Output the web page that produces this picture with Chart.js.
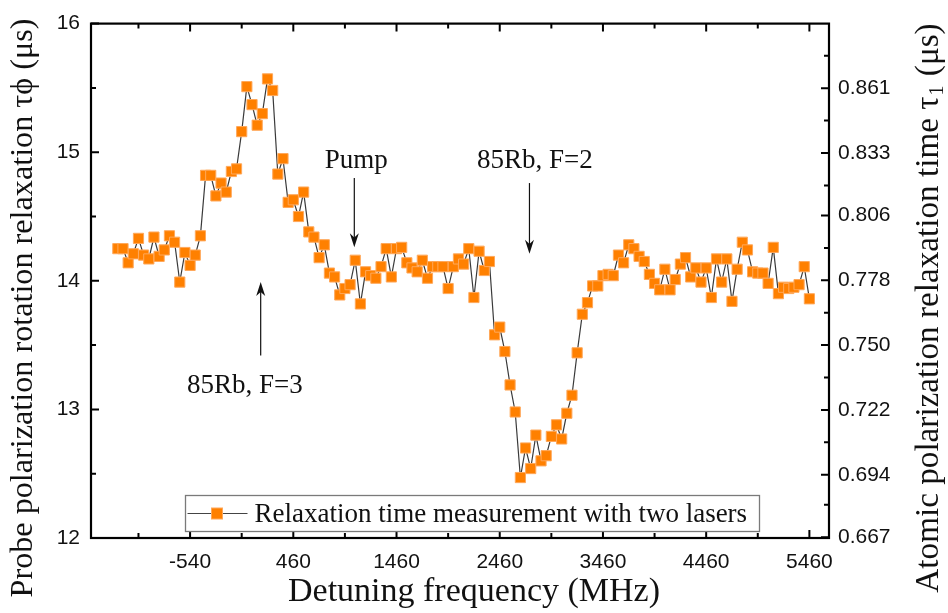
<!DOCTYPE html>
<html>
<head>
<meta charset="utf-8">
<script src="https://cdn.jsdelivr.net/npm/chart.js@4.4.0/dist/chart.umd.min.js"></script>
<style>
html,body{margin:0;padding:0;background:#fff;}
#wrap{width:948px;height:613px;position:relative;}
</style>
</head>
<body>
<div id="wrap"><canvas id="c" width="948" height="613"></canvas></div>
<script>
// ---- Data ----
const frequencies = [
  -1240,-1190,-1140,-1090,-1040,-990,-940,-890,-840,-790,-740,-690,-640,-590,-540,
  -490,-440,-390,-340,-290,-240,-190,-140,-90,-40,10,60,110,160,210,260,310,360,410,460,
  510,560,610,660,710,760,810,860,910,960,1010,1060,1110,1160,1210,1260,1310,1360,1410,1460,
  1510,1560,1610,1660,1710,1760,1810,1860,1910,1960,2010,2060,2110,2160,2210,2260,2310,2360,2410,2460,
  2510,2560,2610,2660,2710,2760,2810,2860,2910,2960,3010,3060,3110,3160,3210,3260,3310,3360,3410,3460,
  3510,3560,3610,3660,3710,3760,3810,3860,3910,3960,4010,4060,4110,4160,4210,4260,4310,4360,4410,4460,
  4510,4560,4610,4660,4710,4760,4810,4860,4910,4960,5010,5060,5110,5160,5210,5260,5310,5360,5410,5460
];
const relaxationTimes = [
  14.25,14.25,14.14,14.21,14.33,14.20,14.17,14.34,14.19,14.24,14.35,14.30,13.99,14.22,14.12,
  14.20,14.35,14.82,14.82,14.66,14.76,14.69,14.85,14.87,15.16,15.51,15.37,15.21,15.30,15.57,15.48,14.83,14.95,14.61,14.63,
  14.50,14.69,14.38,14.34,14.18,14.28,14.06,14.03,13.89,13.94,13.97,14.16,13.82,14.07,14.04,14.02,14.11,14.25,14.03,14.25,
  14.26,14.14,14.10,14.07,14.16,14.02,14.11,14.11,14.11,13.94,14.11,14.17,14.13,14.25,13.87,14.23,14.08,14.15,13.58,13.64,
  13.45,13.19,12.98,12.47,12.70,12.54,12.80,12.60,12.64,12.79,12.88,12.77,12.97,13.11,13.44,13.74,13.83,13.96,13.96,14.04,
  14.05,14.04,14.20,14.14,14.28,14.25,14.19,14.15,14.05,13.98,13.93,14.09,13.93,14.01,14.13,14.18,14.03,14.10,13.99,14.10,
  13.87,14.17,13.99,14.17,13.84,14.09,14.30,14.24,14.07,14.06,14.06,13.98,14.26,13.90,13.95,13.94,13.95,13.97,14.11,13.86
];
const seriesLabel = 'Relaxation time measurement with two lasers';

// ---- Tick labels ----
const xTickValues = [-540, 460, 1460, 2460, 3460, 4460, 5460];
const xMinorTickValues = [-1040, -40, 960, 1960, 2960, 3960, 4960];
const yTickValues = [12, 13, 14, 15, 16];
const yMinorTickValues = [12.5, 13.5, 14.5, 15.5];
const y2TickValues = [0.667, 0.694, 0.722, 0.750, 0.778, 0.806, 0.833, 0.861];
const y2MinorTickValues = [0.681, 0.708, 0.736, 0.764, 0.792, 0.819, 0.847, 0.875];

// ---- Annotations (text + arrow, in data units) ----
const annotationTexts = ['Pump', '85Rb, F=2', '85Rb, F=3'];
const annotationTextX = [1070, 2800, -10];
const annotationTextY = [14.88, 14.88, 13.13];
const arrowX = [1051, 2748, 144];
const arrowFromY = [14.80, 14.76, 13.42];
const arrowToY = [14.26, 14.21, 13.99];

const SANS = "'Liberation Sans', Arial, Helvetica, sans-serif";
const SERIF = "'Liberation Serif', 'Times New Roman', Times, serif";

const xTitle = 'Detuning frequency (MHz)';
const leftTitle = 'Probe polarization rotation relaxation τϕ (μs)';
const rightTitleMain = 'Atomic polarization relaxation time τ';
const rightTitleSub = '1';
const rightTitleEnd = ' (μs)';

function arrow(ctx, x, y1, y2) {
  ctx.save();
  ctx.strokeStyle = '#111';
  ctx.fillStyle = '#111';
  ctx.lineWidth = 1.2;
  const dir = y2 > y1 ? 1 : -1;
  const headLen = 14, headW = 4.5;
  ctx.beginPath();
  ctx.moveTo(x, y1);
  ctx.lineTo(x, y2 - dir * headLen * 0.6);
  ctx.stroke();
  ctx.beginPath();
  ctx.moveTo(x, y2);
  ctx.lineTo(x - headW, y2 - dir * headLen);
  ctx.lineTo(x, y2 - dir * headLen * 0.7);
  ctx.lineTo(x + headW, y2 - dir * headLen);
  ctx.closePath();
  ctx.fill();
  ctx.restore();
}

function fitSize(ctx, text, base, target) {
  ctx.font = base + 'px ' + SERIF;
  const w = ctx.measureText(text).width;
  return base * target / w;
}

const framePlugin = {
  id: 'framePlugin',
  afterDraw(chart) {
    const ctx = chart.ctx;
    const a = chart.chartArea;
    const xs = chart.scales.x, ys = chart.scales.y, y2s = chart.scales.y2;
    ctx.save();
    // frame
    ctx.strokeStyle = '#000';
    ctx.lineWidth = 2.2;
    ctx.strokeRect(a.left, a.top, a.right - a.left, a.bottom - a.top);
    // ticks (inward)
    ctx.lineWidth = 2;
    const major = 8, minor = 5;
    ctx.beginPath();
    xTickValues.forEach(v => {
      const p = xs.getPixelForValue(v);
      ctx.moveTo(p, a.bottom); ctx.lineTo(p, a.bottom - major);
      ctx.moveTo(p, a.top); ctx.lineTo(p, a.top + major);
    });
    xMinorTickValues.forEach(v => {
      const p = xs.getPixelForValue(v);
      ctx.moveTo(p, a.bottom); ctx.lineTo(p, a.bottom - minor);
      ctx.moveTo(p, a.top); ctx.lineTo(p, a.top + minor);
    });
    yTickValues.forEach(v => {
      const p = ys.getPixelForValue(v);
      ctx.moveTo(a.left, p); ctx.lineTo(a.left + major, p);
    });
    yMinorTickValues.forEach(v => {
      const p = ys.getPixelForValue(v);
      ctx.moveTo(a.left, p); ctx.lineTo(a.left + minor, p);
    });
    y2TickValues.forEach(v => {
      const p = y2s.getPixelForValue(v);
      ctx.moveTo(a.right, p); ctx.lineTo(a.right - major, p);
    });
    y2MinorTickValues.forEach(v => {
      const p = y2s.getPixelForValue(v);
      ctx.moveTo(a.right, p); ctx.lineTo(a.right - minor, p);
    });
    ctx.stroke();

    // annotations
    ctx.fillStyle = '#111';
    ctx.font = '27px ' + SERIF;
    ctx.textAlign = 'center';
    ctx.textBaseline = 'alphabetic';
    annotationTexts.forEach((t, i) => {
      ctx.fillText(t, xs.getPixelForValue(annotationTextX[i]), ys.getPixelForValue(annotationTextY[i]));
      arrow(ctx, xs.getPixelForValue(arrowX[i]), ys.getPixelForValue(arrowFromY[i]), ys.getPixelForValue(arrowToY[i]));
    });

    // legend
    const lx = 185.5, ly = 495.5, lw = 574, lh = 36;
    ctx.fillStyle = '#fff';
    ctx.fillRect(lx, ly, lw, lh);
    ctx.strokeStyle = '#7a7a7a';
    ctx.lineWidth = 1.3;
    ctx.strokeRect(lx, ly, lw, lh);
    const cy = ly + lh / 2;
    ctx.strokeStyle = '#444';
    ctx.lineWidth = 1.2;
    ctx.beginPath();
    ctx.moveTo(lx + 2, cy); ctx.lineTo(lx + 62, cy);
    ctx.stroke();
    ctx.fillStyle = '#FF8000';
    ctx.fillRect(lx + 26, cy - 5.5, 11, 11);
    ctx.strokeStyle = '#FFA85A';
    ctx.lineWidth = 1;
    ctx.strokeRect(lx + 26, cy - 5.5, 11, 11);
    ctx.fillStyle = '#111';
    ctx.font = '27px ' + SERIF;
    ctx.textAlign = 'left';
    ctx.textBaseline = 'middle';
    ctx.fillText(chart.data.datasets[0].label, lx + 69, cy + 1);

    // x axis title
    ctx.fillStyle = '#111';
    const xsz = fitSize(ctx, xTitle, 34, 372);
    ctx.font = xsz.toFixed(1) + 'px ' + SERIF;
    ctx.textAlign = 'center';
    ctx.textBaseline = 'middle';
    ctx.fillText(xTitle, 474, 592);

    // left axis title
    ctx.save();
    const lsz = fitSize(ctx, leftTitle, 30, 580);
    ctx.translate(24, 308);
    ctx.rotate(-Math.PI / 2);
    ctx.font = lsz.toFixed(1) + 'px ' + SERIF;
    ctx.textAlign = 'center';
    ctx.textBaseline = 'middle';
    ctx.fillText(leftTitle, 0, 0);
    ctx.restore();

    // right axis title (reads bottom to top, with subscript)
    ctx.save();
    ctx.translate(929, 309);
    ctx.rotate(-Math.PI / 2);
    const rsz = fitSize(ctx, rightTitleMain + '1' + rightTitleEnd, 32, 575);
    const subSz = rsz * 0.6;
    ctx.font = rsz.toFixed(1) + 'px ' + SERIF;
    ctx.textBaseline = 'middle';
    const w1 = ctx.measureText(rightTitleMain).width;
    ctx.font = subSz.toFixed(1) + 'px ' + SERIF;
    const w2 = ctx.measureText(rightTitleSub).width;
    ctx.font = rsz.toFixed(1) + 'px ' + SERIF;
    const w3 = ctx.measureText(rightTitleEnd).width;
    const start = -(w1 + w2 + w3) / 2;
    ctx.textAlign = 'left';
    ctx.fillStyle = '#111';
    ctx.fillText(rightTitleMain, start, 0);
    ctx.font = subSz.toFixed(1) + 'px ' + SERIF;
    ctx.fillText(rightTitleSub, start + w1 + 1, 9);
    ctx.font = rsz.toFixed(1) + 'px ' + SERIF;
    ctx.fillText(rightTitleEnd, start + w1 + w2 + 2, 0);
    ctx.restore();

    ctx.restore();
  }
};

new Chart(document.getElementById('c'), {
  type: 'line',
  data: {
    datasets: [{
      label: seriesLabel,
      data: frequencies.map((f, i) => ({ x: f, y: relaxationTimes[i] })),
      borderColor: '#3a3a3a',
      borderWidth: 1.2,
      pointStyle: 'rect',
      pointRadius: 7.2,
      pointBackgroundColor: '#FF8000',
      pointBorderColor: '#FFA85A',
      pointBorderWidth: 1,
      tension: 0,
      fill: false,
      yAxisID: 'y'
    }]
  },
  options: {
    responsive: false,
    animation: false,
    devicePixelRatio: 1,
    layout: { padding: { top: 20, left: 0, right: 0, bottom: 0 } },
    plugins: { legend: { display: false }, tooltip: { enabled: false } },
    scales: {
      x: {
        type: 'linear', position: 'bottom', min: -1500, max: 5650,
        afterBuildTicks: s => { s.ticks = xTickValues.map(v => ({ value: v })); },
        afterFit: s => { s.height = 75; },
        grid: { display: false, drawTicks: false },
        border: { display: false },
        ticks: { autoSkip: false, maxRotation: 0, padding: 12, color: '#111',
                 font: { family: SANS, size: 21 }, callback: v => String(v) },
        title: { display: false, text: xTitle }
      },
      y: {
        type: 'linear', position: 'left', min: 12, max: 16,
        afterBuildTicks: s => { s.ticks = yTickValues.map(v => ({ value: v })); },
        afterFit: s => { s.width = 91; },
        grid: { display: false, drawTicks: false },
        border: { display: false },
        ticks: { padding: 11, color: '#111', font: { family: SANS, size: 21 }, callback: v => String(v) },
        title: { display: false, text: leftTitle }
      },
      y2: {
        type: 'linear', position: 'right', min: 12 / 18, max: 16 / 18,
        afterBuildTicks: s => { s.ticks = y2TickValues.map(v => ({ value: v })); },
        afterFit: s => { s.width = 119; },
        grid: { display: false, drawTicks: false },
        border: { display: false },
        ticks: { padding: 9, color: '#111', font: { family: SANS, size: 21 }, callback: v => v.toFixed(3) }
      }
    }
  },
  plugins: [framePlugin]
});
</script>
</body>
</html>
